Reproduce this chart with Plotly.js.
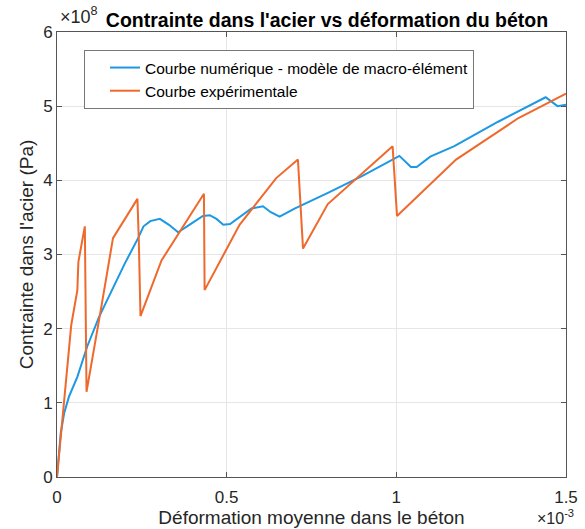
<!DOCTYPE html>
<html>
<head>
<meta charset="utf-8">
<script src="https://cdn.plot.ly/plotly-3.0.1.min.js"></script>
<style>html,body{margin:0;padding:0;background:#fff;}#chart{width:585px;height:529px;}</style>
</head>
<body>
<div id="chart"></div>
<script>
// Numerical curve (macro-element model): strain [-], stress [Pa]
const numStrain = [0, 0.005e-3, 0.011e-3, 0.021e-3, 0.035e-3, 0.06e-3, 0.089e-3, 0.124e-3, 0.166e-3, 0.2e-3, 0.239e-3, 0.255e-3, 0.275e-3, 0.303e-3, 0.33e-3, 0.357e-3, 0.40e-3, 0.43e-3, 0.45e-3, 0.47e-3, 0.49e-3, 0.51e-3, 0.573e-3, 0.607e-3, 0.63e-3, 0.656e-3, 0.70e-3, 0.803e-3, 0.90e-3, 1.009e-3, 1.043e-3, 1.06e-3, 1.10e-3, 1.171e-3, 1.30e-3, 1.44e-3, 1.475e-3, 1.5e-3];
const numStress = [0, 0.33e8, 0.59e8, 0.86e8, 1.08e8, 1.35e8, 1.76e8, 2.16e8, 2.56e8, 2.88e8, 3.22e8, 3.38e8, 3.45e8, 3.48e8, 3.40e8, 3.30e8, 3.43e8, 3.52e8, 3.53e8, 3.48e8, 3.40e8, 3.41e8, 3.62e8, 3.65e8, 3.57e8, 3.51e8, 3.62e8, 3.84e8, 4.06e8, 4.33e8, 4.18e8, 4.18e8, 4.32e8, 4.46e8, 4.79e8, 5.12e8, 5.00e8, 5.02e8];
// Experimental curve
const expStrain = [0, 0.026e-3, 0.042e-3, 0.06e-3, 0.063e-3, 0.082e-3, 0.084e-3, 0.087e-3, 0.129e-3, 0.165e-3, 0.237e-3, 0.241e-3, 0.246e-3, 0.308e-3, 0.433e-3, 0.435e-3, 0.538e-3, 0.646e-3, 0.71e-3, 0.725e-3, 0.798e-3, 0.989e-3, 1.002e-3, 1.176e-3, 1.36e-3, 1.5e-3];
const expStress = [0, 1.25e8, 2.05e8, 2.52e8, 2.90e8, 3.38e8, 2.70e8, 1.15e8, 2.25e8, 3.22e8, 3.75e8, 3.20e8, 2.17e8, 2.92e8, 3.82e8, 2.52e8, 3.40e8, 4.03e8, 4.28e8, 3.08e8, 3.68e8, 4.46e8, 3.52e8, 4.28e8, 4.84e8, 5.17e8];

const seriesNames = ['Courbe numérique - modèle de macro-élément', 'Courbe expérimentale'];
const xTickVals = [0, 0.5e-3, 1e-3, 1.5e-3];
const xTickText = ['0', '0.5', '1', '1.5'];
const yTickVals = [0, 1e8, 2e8, 3e8, 4e8, 5e8, 6e8];
const yTickText = ['0', '1', '2', '3', '4', '5', '6'];

const FONT = 'Liberation Sans, Arial, Helvetica, sans-serif';
const traces = [
  {x: numStrain, y: numStress, mode: 'lines', name: seriesNames[0], line: {color: '#1d98e3', width: 2}},
  {x: expStrain, y: expStress, mode: 'lines', name: seriesNames[1], line: {color: '#ef692c', width: 2}}
];
const axisCommon = {
  showline: true, linecolor: '#555', linewidth: 1, mirror: 'ticks',
  ticks: 'inside', ticklen: 5, tickcolor: '#555',
  showgrid: true, gridcolor: '#e6e6e6', zeroline: false,
  tickfont: {family: FONT, size: 17, color: '#262626'}
};
const layout = {
  width: 585, height: 529,
  margin: {l: 57, r: 19, t: 32, b: 52},
  paper_bgcolor: '#fff', plot_bgcolor: '#fff',
  font: {family: FONT, color: '#262626'},
  title: {text: "Contrainte dans l'acier vs déformation du béton", font: {family: FONT, size: 19.5, weight: 'bold', color: '#000'},
    xref: 'container', yref: 'container', x: 327 / 585, xanchor: 'center', y: 1 - 20 / 529, yanchor: 'middle'},
  xaxis: Object.assign({}, axisCommon, {range: [0, 1.5e-3], tickvals: xTickVals, ticktext: xTickText, ticklabelstandoff: 5,
    title: {text: 'Déformation moyenne dans le béton', font: {family: FONT, size: 19, color: '#262626'}, standoff: 2}}),
  yaxis: Object.assign({}, axisCommon, {range: [0, 6e8], tickvals: yTickVals, ticktext: yTickText,
    title: {text: "Contrainte dans l'acier (Pa)", font: {family: FONT, size: 19, color: '#262626'}, standoff: 4}}),
  showlegend: true,
  legend: {x: 27 / 509, y: 0.9596, xanchor: 'left', yanchor: 'top', bgcolor: '#fff', bordercolor: '#777', borderwidth: 1,
    font: {family: FONT, size: 15.5, color: '#000'}, indentation: 20},
  annotations: [
    {xref: 'paper', yref: 'paper', x: 0, y: 1, xanchor: 'left', yanchor: 'bottom', yshift: 3, xshift: 1, showarrow: false,
     text: '×10<sup>8</sup>', font: {family: FONT, size: 18, color: '#262626'}},
    {xref: 'paper', yref: 'paper', x: 1, y: 0, xanchor: 'right', yanchor: 'middle', yshift: -40, xshift: 10, showarrow: false,
     text: '×10<sup>-3</sup>', font: {family: FONT, size: 16, color: '#262626'}}
  ]
};
Plotly.newPlot('chart', traces, layout, {displayModeBar: false, staticPlot: true});
</script>
</body>
</html>
